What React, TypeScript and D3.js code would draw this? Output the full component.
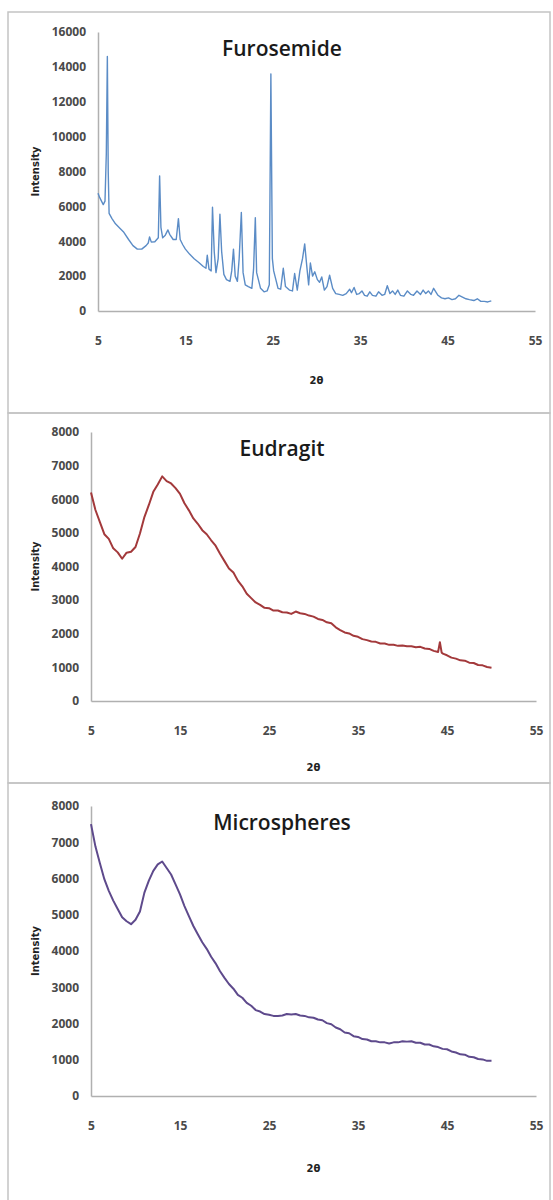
import React, { useEffect, useRef } from "react";
import * as d3 from "d3";

// 2θ / intensity pairs
const furosemide: [number, number][] = [
  [5.0, 6750], [5.2, 6500], [5.4, 6300], [5.6, 6100], [5.8, 6300], [5.95, 9000], [6.07, 14600], [6.17, 8000],
  [6.27, 5600], [6.6, 5300], [7.0, 5000], [7.5, 4750], [7.9, 4550], [8.5, 4100], [9.0, 3750], [9.5, 3550],
  [10.0, 3550], [10.5, 3750], [10.75, 3900], [10.9, 4250], [11.1, 3950], [11.5, 3970], [11.9, 4200], [12.05, 7750],
  [12.2, 4800], [12.4, 4200], [12.7, 4350], [13.0, 4650], [13.2, 4400], [13.6, 4100], [13.95, 4100], [14.2, 5300],
  [14.4, 4100], [14.7, 3800], [15.0, 3550], [15.5, 3250], [16.0, 3000], [16.5, 2800], [17.05, 2550], [17.35, 2450],
  [17.5, 3200], [17.7, 2400], [17.95, 2300], [18.1, 5950], [18.3, 3400], [18.5, 2200], [18.75, 3000], [18.95, 5550],
  [19.15, 3400], [19.4, 2100], [19.7, 1800], [20.1, 1700], [20.3, 2300], [20.5, 3550], [20.7, 2000], [20.95, 1700],
  [21.15, 3000], [21.4, 5650], [21.6, 2200], [21.85, 1500], [22.2, 1400], [22.6, 1300], [22.8, 2400], [23.0, 5350],
  [23.15, 2200], [23.35, 1800], [23.6, 1300], [24.0, 1100], [24.35, 1150], [24.6, 1500], [24.78, 13600], [24.95, 3000],
  [25.1, 2300], [25.3, 1900], [25.6, 1300], [25.9, 1250], [26.2, 2450], [26.45, 1400], [26.9, 1200], [27.25, 1150],
  [27.5, 2150], [27.8, 1200], [28.1, 2300], [28.4, 3000], [28.65, 3850], [28.9, 2500], [29.1, 1500], [29.3, 2750],
  [29.55, 2000], [29.8, 2250], [30.1, 1800], [30.35, 1650], [30.6, 1950], [30.9, 1200], [31.2, 1400], [31.5, 2050],
  [31.85, 1300], [32.2, 1000], [32.6, 950], [33.0, 900], [33.4, 1000], [33.8, 1250], [34.0, 1050], [34.3, 1350],
  [34.6, 950], [34.9, 1000], [35.2, 1150], [35.5, 900], [35.8, 850], [36.1, 1100], [36.4, 900], [36.8, 850],
  [37.1, 1100], [37.5, 900], [37.8, 950], [38.1, 1450], [38.4, 1000], [38.7, 1150], [39.0, 950], [39.3, 1200],
  [39.6, 900], [40.0, 850], [40.4, 1150], [40.8, 950], [41.1, 900], [41.5, 1150], [41.9, 950], [42.2, 1200],
  [42.5, 1000], [42.8, 1150], [43.1, 950], [43.4, 1300], [43.9, 900], [44.3, 750], [44.7, 700], [45.1, 750],
  [45.5, 650], [45.9, 700], [46.3, 900], [46.7, 800], [47.1, 700], [47.5, 650], [48.0, 600], [48.4, 700],
  [48.8, 550], [49.2, 550], [49.6, 520], [50.0, 580],
];

const eudragit: [number, number][] = [
  [5.0, 6200], [5.5, 5680], [6.0, 5320], [6.5, 4960], [7.0, 4820], [7.5, 4540], [8.0, 4420], [8.5, 4230],
  [9.0, 4410], [9.5, 4440], [10.0, 4580], [10.5, 4980], [11.0, 5470], [11.5, 5830], [12.0, 6220], [12.5, 6440],
  [13.0, 6680], [13.5, 6540], [14.0, 6470], [14.5, 6330], [15.0, 6160], [15.5, 5880], [16.0, 5670], [16.5, 5430],
  [17.0, 5270], [17.5, 5080], [18.0, 4960], [18.5, 4780], [19.0, 4620], [19.5, 4380], [20.0, 4160], [20.5, 3940],
  [21.0, 3820], [21.5, 3580], [22.0, 3410], [22.5, 3190], [23.0, 3060], [23.5, 2930], [24.0, 2860], [24.5, 2770],
  [25.0, 2760], [25.5, 2690], [26.0, 2690], [26.5, 2640], [27.0, 2630], [27.5, 2590], [28.0, 2660], [28.5, 2610],
  [29.0, 2590], [29.5, 2540], [30.0, 2510], [30.5, 2440], [31.0, 2410], [31.5, 2340], [32.0, 2310], [32.5, 2190],
  [33.0, 2110], [33.5, 2040], [34.0, 2010], [34.5, 1940], [35.0, 1910], [35.5, 1840], [36.0, 1810], [36.5, 1770],
  [37.0, 1760], [37.5, 1710], [38.0, 1710], [38.5, 1670], [39.0, 1670], [39.5, 1640], [40.0, 1650], [40.5, 1630],
  [41.0, 1630], [41.5, 1600], [42.0, 1610], [42.5, 1560], [43.0, 1550], [43.5, 1490], [44.0, 1460], [44.2, 1750],
  [44.4, 1440], [44.6, 1400], [45.0, 1360], [45.5, 1290], [46.0, 1260], [46.5, 1210], [47.0, 1200], [47.5, 1140],
  [48.0, 1130], [48.5, 1070], [49.0, 1060], [49.5, 1010], [50.0, 990],
];

const microspheres: [number, number][] = [
  [5.0, 7500], [5.5, 6880], [6.0, 6420], [6.5, 5980], [7.0, 5660], [7.5, 5390], [8.0, 5160], [8.5, 4930],
  [9.0, 4820], [9.5, 4740], [10.0, 4860], [10.5, 5090], [11.0, 5610], [11.5, 5940], [12.0, 6210], [12.5, 6390],
  [13.0, 6470], [13.5, 6290], [14.0, 6110], [14.5, 5840], [15.0, 5560], [15.5, 5240], [16.0, 4960], [16.5, 4690],
  [17.0, 4460], [17.5, 4240], [18.0, 4060], [18.5, 3840], [19.0, 3660], [19.5, 3440], [20.0, 3260], [20.5, 3090],
  [21.0, 2960], [21.5, 2790], [22.0, 2710], [22.5, 2570], [23.0, 2490], [23.5, 2370], [24.0, 2330], [24.5, 2260],
  [25.0, 2240], [25.5, 2210], [26.0, 2210], [26.5, 2220], [27.0, 2260], [27.5, 2250], [28.0, 2260], [28.5, 2220],
  [29.0, 2210], [29.5, 2170], [30.0, 2160], [30.5, 2110], [31.0, 2090], [31.5, 2010], [32.0, 1980], [32.5, 1890],
  [33.0, 1840], [33.5, 1750], [34.0, 1730], [34.5, 1650], [35.0, 1630], [35.5, 1570], [36.0, 1560], [36.5, 1510],
  [37.0, 1510], [37.5, 1480], [38.0, 1480], [38.5, 1450], [39.0, 1480], [39.5, 1480], [40.0, 1510], [40.5, 1500],
  [41.0, 1510], [41.5, 1470], [42.0, 1470], [42.5, 1420], [43.0, 1420], [43.5, 1370], [44.0, 1350], [44.5, 1300],
  [45.0, 1290], [45.5, 1230], [46.0, 1200], [46.5, 1150], [47.0, 1140], [47.5, 1080], [48.0, 1070], [48.5, 1020],
  [49.0, 1010], [49.5, 970], [50.0, 970],
];

const xTicks = [5, 15, 25, 35, 45, 55];
const titles = ["Furosemide", "Eudragit", "Microspheres"];
const yMaxes = [16000, 8000, 8000];
const yStep = [2000, 1000, 1000];

const panels = [
  { box: [8, 12, 550, 413], left: 98, right: 535, top: 32, bottom: 311, xLab: 380, data: furosemide, color: "#5b8cc6", sw: 1.4 },
  { box: [8, 413, 550, 783], left: 91, right: 536, top: 432, bottom: 701, xLab: 767, data: eudragit, color: "#a3393b", sw: 2 },
  { box: [8, 783, 550, 1220], left: 91, right: 536, top: 806, bottom: 1096, xLab: 1168, data: microspheres, color: "#5e4a8c", sw: 2 },
];

export default function App() {
  const ref = useRef<SVGSVGElement>(null);

  useEffect(() => {
    const svg = d3.select(ref.current);
    svg.selectAll("*").remove();

    panels.forEach((p, i) => {
      const g = svg.append("g");
      const [bx0, by0, bx1, by1] = p.box;
      g.append("rect")
        .attr("x", bx0).attr("y", by0)
        .attr("width", bx1 - bx0).attr("height", by1 - by0)
        .attr("fill", "none").attr("stroke", "#c4c4c4").attr("stroke-width", 1.5);

      const x = d3.scaleLinear().domain([5, 55]).range([p.left, p.right]);
      const y = d3.scaleLinear().domain([0, yMaxes[i]]).range([p.bottom, p.top]);

      const xAxis = g.append("g")
        .attr("transform", `translate(0,${p.bottom})`)
        .call(d3.axisBottom(x).tickValues(xTicks).tickSize(0).tickPadding(25).tickFormat(d3.format("d")));
      const yAxis = g.append("g")
        .attr("transform", `translate(${p.left},0)`)
        .call(d3.axisLeft(y).tickValues(d3.range(0, yMaxes[i] + 1, yStep[i])).tickSize(0).tickPadding(12).tickFormat(d3.format("d")));

      [xAxis, yAxis].forEach(a => {
        a.select(".domain").attr("stroke", "#b0b0b0").attr("stroke-width", 1.5);
        a.selectAll("text")
          .attr("font-family", "'Open Sans', sans-serif")
          .attr("font-weight", 700)
          .attr("font-size", 12)
          .attr("fill", "#4a4a4a");
      });

      g.append("path")
        .datum(p.data)
        .attr("fill", "none")
        .attr("stroke", p.color)
        .attr("stroke-width", p.sw)
        .attr("stroke-linejoin", "round")
        .attr("d", d3.line<[number, number]>().x(d => x(d[0])).y(d => y(d[1])));

      g.append("text")
        .attr("x", 282).attr("y", p.top + 16)
        .attr("text-anchor", "middle").attr("dominant-baseline", "central")
        .attr("font-family", "'Open Sans', sans-serif")
        .attr("font-weight", 600).attr("font-size", 21)
        .attr("fill", "#1a1a1a")
        .text(titles[i]);

      g.append("text")
        .attr("transform", `translate(35,${(p.top + p.bottom) / 2}) rotate(-90)`)
        .attr("text-anchor", "middle").attr("dominant-baseline", "central")
        .attr("font-family", "'DejaVu Sans', sans-serif")
        .attr("font-weight", 700).attr("font-size", 10)
        .attr("fill", "#222")
        .text("Intensity");

      g.append("text")
        .attr("x", (p.left + p.right) / 2).attr("y", p.xLab)
        .attr("text-anchor", "middle").attr("dominant-baseline", "central")
        .attr("font-family", "'DejaVu Sans', sans-serif")
        .attr("font-weight", 700).attr("font-size", 10)
        .attr("fill", "#222")
        .text("2θ");
    });
  }, []);

  return (
    <div style={{ position: "absolute", left: 0, top: 0 }}>
      <svg ref={ref} width={553} height={1200} style={{ display: "block", background: "#fff" }} />
    </div>
  );
}
